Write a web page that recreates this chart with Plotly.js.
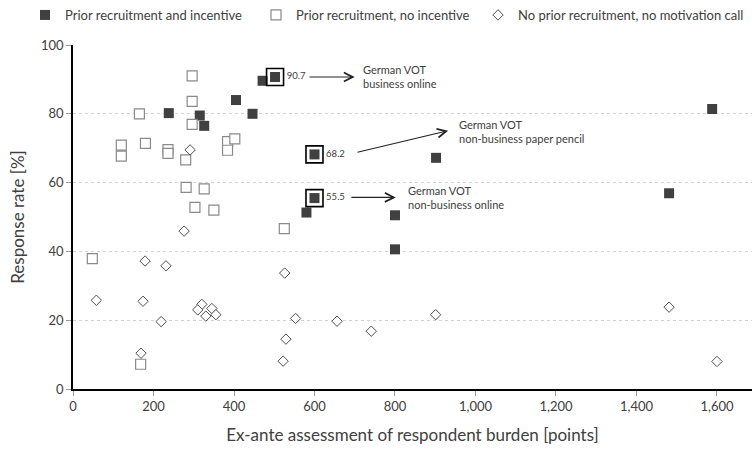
<!DOCTYPE html>
<html>
<head>
<meta charset="utf-8">
<script src="https://cdn.plot.ly/plotly-3.0.1.min.js"></script>
<style>
  html, body { margin: 0; padding: 0; background: #fff; }
  #chart { width: 752px; height: 454px; }
</style>
</head>
<body>
<div id="chart"></div>
<script>
// Respondent burden (points) vs. response rate (%), by recruitment group

// Prior recruitment and incentive
const incentiveBurden = [238, 315, 326, 405, 446, 471, 502, 600, 600, 580, 800, 800, 902, 1481, 1588];
const incentiveRate   = [80.2, 79.5, 76.5, 84.0, 80.0, 89.6, 90.7, 68.2, 55.5, 51.3, 50.5, 40.6, 67.2, 56.9, 81.4];

// Prior recruitment, no incentive
const noIncentiveBurden = [296, 296, 165, 296, 120, 120, 180, 236, 236, 280, 384, 402, 384, 281, 326, 303, 350, 525, 48, 168];
const noIncentiveRate   = [91.0, 83.6, 80.0, 76.9, 70.9, 67.7, 71.4, 69.6, 68.5, 66.6, 71.9, 72.7, 69.4, 58.6, 58.2, 52.8, 52.0, 46.6, 37.9, 7.2];

// No prior recruitment, no motivation call
const noRecruitBurden = [291, 276, 179, 231, 526, 58, 174, 219, 320, 310, 330, 345, 355, 169, 529, 522, 553, 656, 741, 901, 1481, 1600];
const noRecruitRate   = [69.5, 45.9, 37.2, 35.8, 33.7, 25.8, 25.5, 19.6, 24.6, 23.0, 21.2, 23.4, 21.6, 10.4, 14.5, 8.1, 20.5, 19.7, 16.8, 21.6, 23.8, 8.0];

// German VOT studies, highlighted (indices into the incentive series)
const votIndex = [6, 7, 8];
const votNames = ['German VOT<br>business online', 'German VOT<br>non-business paper pencil', 'German VOT<br>non-business online'];

const xTickVals = [0, 200, 400, 600, 800, 1000, 1200, 1400, 1600];
const yTickVals = [0, 20, 40, 60, 80, 100];

const FONT = 'Lato, "Open Sans", sans-serif';
const TXT = '#404040';

const votX = votIndex.map(i => incentiveBurden[i]);
const votY = votIndex.map(i => incentiveRate[i]);

const traces = [
  {
    type: 'scatter', mode: 'markers', name: 'Prior recruitment and incentive', legend: 'legend',
    x: incentiveBurden, y: incentiveRate,
    marker: { symbol: 'square', size: 10, color: '#404040', line: { width: 0 } }
  },
  {
    type: 'scatter', mode: 'markers', name: 'Prior recruitment, no incentive', legend: 'legend2',
    x: noIncentiveBurden, y: noIncentiveRate,
    marker: { symbol: 'square', size: 10, color: '#ffffff', line: { color: '#8a8a8a', width: 1.2 } }
  },
  {
    type: 'scatter', mode: 'markers', name: 'No prior recruitment, no motivation call', legend: 'legend3',
    x: noRecruitBurden, y: noRecruitRate,
    marker: { symbol: 'diamond', size: 8, color: '#ffffff', line: { color: '#505050', width: 1 } }
  },
  {
    // frame around the highlighted studies, with their values
    type: 'scatter', mode: 'markers+text', showlegend: false, hoverinfo: 'skip',
    x: votX, y: votY,
    text: votY.map(v => v.toFixed(1)),
    textposition: 'middle right',
    textfont: { family: FONT, size: 9.5, color: TXT },
    marker: { symbol: 'square-open', size: 17, color: '#000000', line: { color: '#000000', width: 1.6 } }
  }
];

// arrows and captions for the highlighted studies
const arrowTail = [[584, 90.7], [703, 68.7], [688, 55.7]];
const arrowHead = [[700, 90.7], [932, 75.1], [802, 55.7]];
const captionPos = [[716, 90.7], [954, 74.8], [827, 55.7]];

const annotations = [];
votNames.forEach((name, k) => {
  annotations.push({
    xref: 'x', yref: 'y', axref: 'x', ayref: 'y',
    x: arrowHead[k][0], y: arrowHead[k][1],
    ax: arrowTail[k][0], ay: arrowTail[k][1],
    text: '', showarrow: true, arrowhead: 5, arrowsize: 1.6, arrowwidth: 1.1, arrowcolor: '#222'
  });
  annotations.push({
    xref: 'x', yref: 'y', x: captionPos[k][0], y: captionPos[k][1],
    text: name, showarrow: false, xanchor: 'left', yanchor: 'middle', align: 'left',
    font: { family: FONT, size: 11, color: TXT }
  });
});

// one legend per group, laid out in a row above the plot
function legendAt(x) {
  return {
    orientation: 'h', xref: 'paper', yref: 'paper',
    x: x, y: 1.13, xanchor: 'left', yanchor: 'top',
    font: { family: FONT, size: 13, color: TXT },
    bgcolor: 'rgba(0,0,0,0)', itemwidth: 30
  };
}

const layout = {
  width: 752, height: 454,
  margin: { l: 73, r: 0, t: 44, b: 65 },
  paper_bgcolor: '#ffffff', plot_bgcolor: '#ffffff',
  font: { family: FONT, color: TXT },
  showlegend: true,
  legend: legendAt(-0.0707),
  legend2: legendAt(0.2695),
  legend3: legendAt(0.5965),
  xaxis: {
    range: [0, 1687], tickvals: xTickVals, tickformat: ',d',
    showgrid: false, zeroline: false,
    showline: true, linecolor: '#000', linewidth: 1.5,
    ticks: 'outside', ticklen: 5, tickcolor: '#999',
    tickfont: { family: FONT, size: 13, color: TXT },
    title: { text: 'Ex-ante assessment of respondent burden [points]', font: { family: FONT, size: 17, color: TXT }, standoff: 16 }
  },
  yaxis: {
    range: [0, 100], tickvals: yTickVals,
    showgrid: true, gridcolor: '#d2d2d2', griddash: 'dot', gridwidth: 1,
    zeroline: false,
    showline: true, linecolor: '#000', linewidth: 1.5,
    ticks: 'outside', ticklen: 5, tickcolor: '#999',
    tickfont: { family: FONT, size: 13, color: TXT },
    title: { text: 'Response rate [%]', font: { family: FONT, size: 17, color: TXT }, standoff: 12 }
  },
  annotations: annotations
};

Plotly.newPlot('chart', traces, layout, { displayModeBar: false, responsive: false });
</script>
</body>
</html>
